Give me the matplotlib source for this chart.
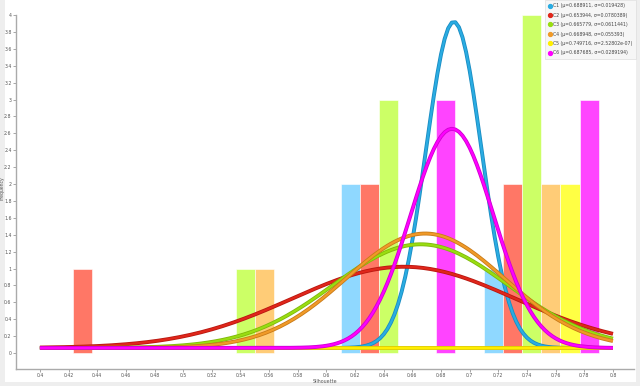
import numpy as np
import matplotlib
matplotlib.use("Agg")
import matplotlib.pyplot as plt
import matplotlib.patheffects as pe
from matplotlib.patches import Rectangle
from matplotlib.lines import Line2D

# ---- data ----
series = ["C1", "C2", "C3", "C4", "C5", "C6"]
mus = [0.688911, 0.653944, 0.665779, 0.668948, 0.749716, 0.687685]
sigmas = [0.019428, 0.0780389, 0.0611441, 0.055393, 2.52802e-07, 0.0289194]
mu_txt = ["0.688911", "0.653944", "0.665779", "0.668948", "0.749716", "0.687685"]
sigma_txt = ["0.019428", "0.0780389", "0.0611441", "0.055393", "2.52802e-07", "0.0289194"]
bin_centers = [0.45, 0.55, 0.65, 0.75]
counts = {
    "C1": [0, 0, 2, 1],
    "C2": [1, 0, 2, 2],
    "C3": [0, 1, 3, 4],
    "C4": [0, 1, 0, 2],
    "C5": [0, 0, 0, 2],
    "C6": [0, 0, 3, 3],
}
curve_scale = 0.188
curve_base = 0.06

# ---- style ----
line_colors = ["#2aace2", "#e0261b", "#99dd11", "#f09a28", "#ffee00", "#ff00ff"]
line_dark = ["#1a8cc2", "#b81810", "#7fb80a", "#c87a18", "#e0cc00", "#d000d0"]
bar_colors = ["#8fd8ff", "#ff7766", "#ccff66", "#ffcc77", "#ffff44", "#ff44ff"]

W, H = 640, 386
fig = plt.figure(figsize=(W / 100, H / 100), dpi=100)
fig.patch.set_facecolor("#eeeeee")
fig.patches.append(Rectangle((5 / W, 1 - 382 / H), 631 / W, 382 / H,
                             transform=fig.transFigure, facecolor="white",
                             edgecolor="none", zorder=-10))

ax = fig.add_axes([16 / W, 1 - 369 / H, (634 - 16) / W, (369 - 15) / H])
ax.set_facecolor("none")

group_w = 0.08
sub_w = group_w / len(series)
for i, s in enumerate(series):
    lefts = [c - group_w / 2 + i * sub_w for c in bin_centers]
    ax.bar(lefts, counts[s], width=sub_w, align="edge", color=bar_colors[i],
           edgecolor="#ffffff", linewidth=0.4, zorder=2)

xs = np.linspace(0.4, 0.8, 161)
for i, s in enumerate(series):
    pdf = np.exp(-0.5 * ((xs - mus[i]) / sigmas[i]) ** 2) / (sigmas[i] * np.sqrt(2 * np.pi))
    ys = curve_scale * pdf + curve_base
    ax.plot(xs, ys, color=line_colors[i], lw=1.6, zorder=3 + i * 0.1,
            path_effects=[pe.Stroke(linewidth=2.8, foreground=line_dark[i]), pe.Normal()],
            solid_capstyle="butt")

ax.set_xlim(0.3833, 0.8147)
ax.set_ylim(-0.189, 4.0)
xt = np.round(np.arange(0.4, 0.8001, 0.02), 2)
ax.set_xticks(xt)
ax.set_xticklabels([("%g" % v) for v in xt])
yt = np.round(np.arange(0, 4.001, 0.2), 1)
ax.set_yticks(yt)
ax.set_yticklabels([("%g" % v) for v in yt])
ax.tick_params(axis="both", labelsize=3.3, colors="#999999", labelcolor="#555555",
               length=2.0, width=0.6, pad=1.2)
for sp in ["top", "right"]:
    ax.spines[sp].set_visible(False)
for sp in ["left", "bottom"]:
    ax.spines[sp].set_color("#aaaaaa")
    ax.spines[sp].set_linewidth(1.0)

fig.text(325 / W, 1 - 381.5 / H, "Silhouette", fontsize=3.4, color="#555555",
         ha="center", va="center")
fig.text(2.5 / W, 1 - 188 / H, "Frequency", fontsize=3.3, color="#555555",
         ha="center", va="center", rotation=90)

handles = [Line2D([], [], marker="o", ls="none", color=line_colors[i], markersize=2.8)
           for i in range(len(series))]
labels = ["%s (\u03bc=%s, \u03c3=%s)" % (series[i], mu_txt[i], sigma_txt[i])
          for i in range(len(series))]
leg = fig.legend(handles, labels, loc="upper right", bbox_to_anchor=(636 / W, 1.0),
                 fontsize=3.35, frameon=True, fancybox=False, handletextpad=0.25,
                 borderpad=0.7, labelspacing=0.95, handlelength=0.8,
                 labelcolor="#444444", borderaxespad=0)
leg.get_frame().set_facecolor("#f4f4f4")
leg.get_frame().set_edgecolor("#dddddd")
leg.get_frame().set_linewidth(0.6)

fig.savefig("out.png", dpi=100, facecolor=fig.get_facecolor())
